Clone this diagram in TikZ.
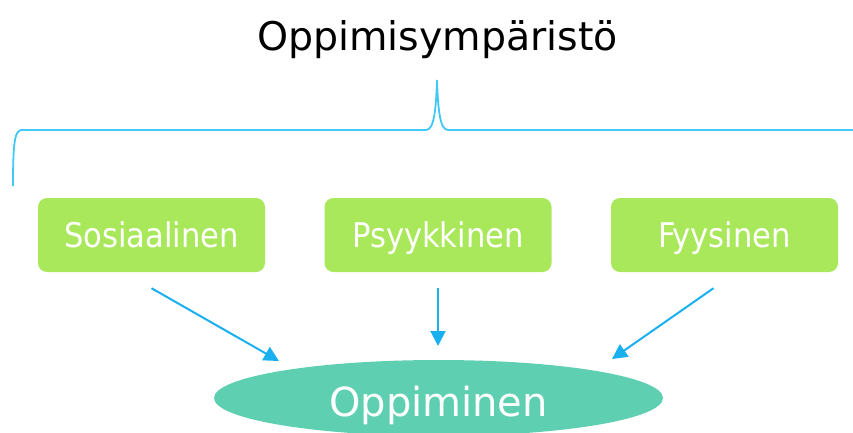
\documentclass[tikz,border=0pt]{standalone}
\usepackage{fontspec}
\setmainfont{DejaVu Sans}
\newfontfamily\boxfont{DejaVu Sans Condensed}
\usetikzlibrary{arrows.meta,shapes.geometric}
\definecolor{boxgreen}{HTML}{A8E85A}
\definecolor{ovalgreen}{HTML}{5ECFB0}
\definecolor{arrowblue}{HTML}{1AB0F0}
\definecolor{braceblue}{HTML}{40C8F8}
\tikzset{
  factor/.style={fill=boxgreen, rounded corners=9pt, minimum width=227pt, minimum height=74pt,
    text=white, font=\boxfont\fontsize{34}{38}\selectfont, inner sep=0pt,
    text height=25pt, text depth=0pt},
  flow/.style={draw=arrowblue, line width=2pt, -{Triangle[length=15pt,width=15pt]}}
}
\begin{document}
\begin{tikzpicture}[x=1pt,y=-1pt]
  \useasboundingbox (0,0) rectangle (853,432);
  \node[font=\fontsize{39.5}{44}\selectfont, anchor=base, inner sep=0pt] (title) at (437.5,50) {Oppimisympäristö};
  % curly bracket spanning the three factors
  \draw[braceblue, line width=1.8pt]
    (13,186) .. controls (13,140) and (15,130) .. (22,130)
    -- (426,130) .. controls (434,130) and (436,110) .. (437,80)
    .. controls (438,110) and (440,130) .. (448,130) -- (853,130);
  \node[factor] (sos) at (151.5,235) {Sosiaalinen};
  \node[factor] (psy) at (438,235) {Psyykkinen};
  \node[factor] (fyy) at (724.5,235) {Fyysinen};
  \node[ellipse, fill=ovalgreen, minimum width=449pt, minimum height=76pt, inner sep=0pt,
        text=white, font=\fontsize{40}{46}\selectfont, text height=36pt, text depth=0pt]
        (opp) at (438.5,398) {Oppiminen};
  \coordinate (a1) at (279,361);
  \coordinate (a2) at (438,346);
  \coordinate (a3) at (612,359);
  \draw[flow] (sos.south) ++(0,16) coordinate (s1) (s1) -- (a1);
  \draw[flow] (psy.south) ++(0,16) coordinate (s2) (s2) -- (a2);
  \draw[flow] (fyy.south) ++(-11,16) coordinate (s3) (s3) -- (a3);
\end{tikzpicture}
\end{document}
